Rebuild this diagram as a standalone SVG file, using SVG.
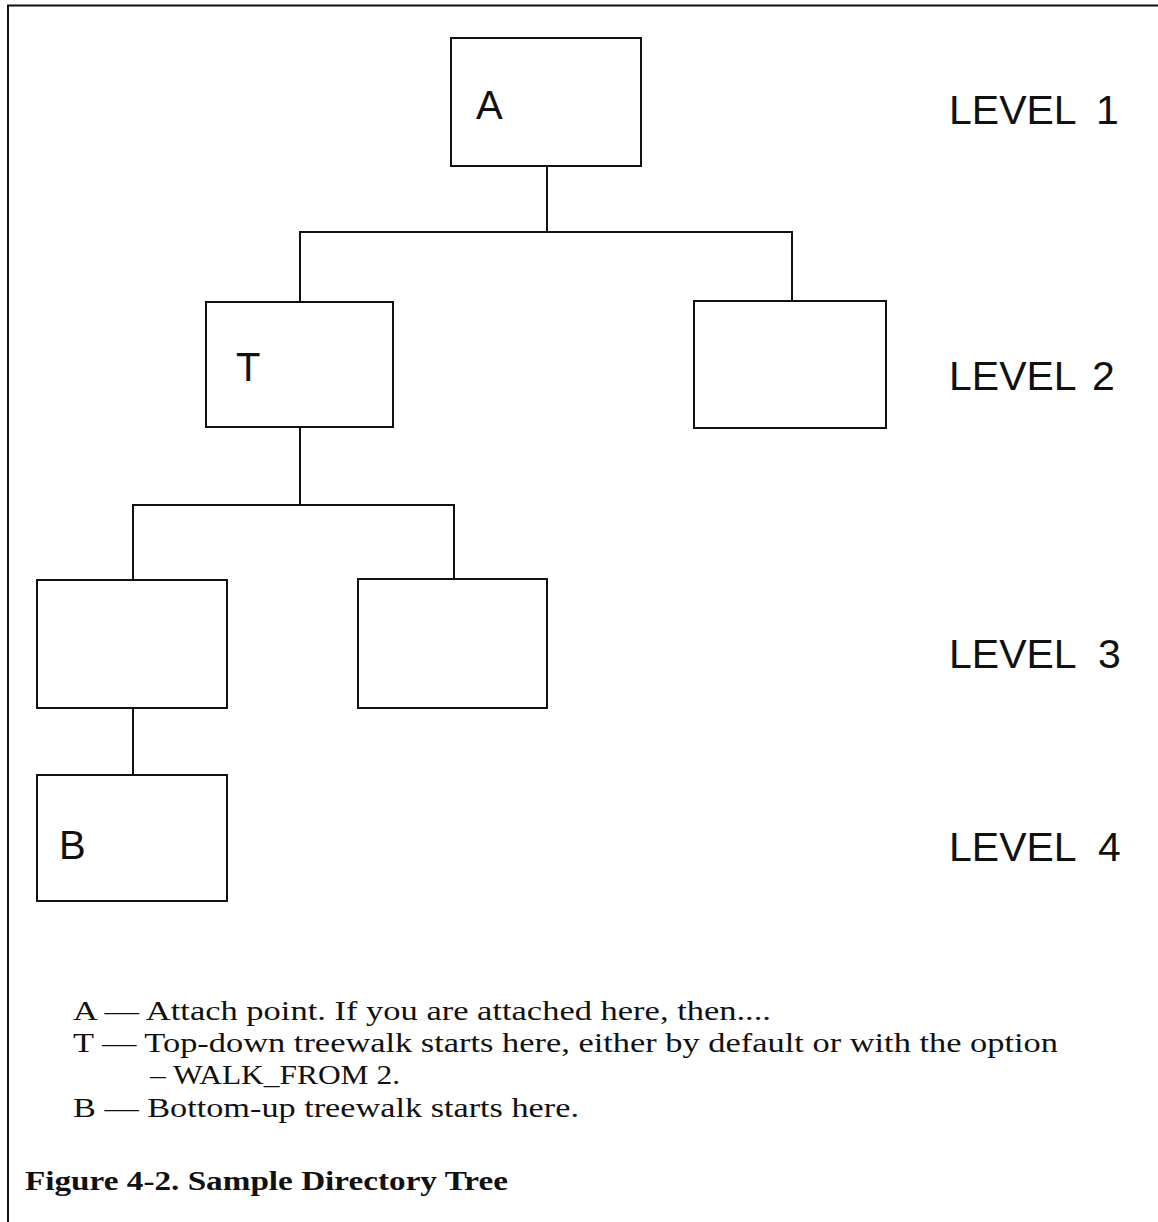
<svg xmlns="http://www.w3.org/2000/svg" width="1158" height="1222" viewBox="0 0 1158 1222">
<style>
.box{fill:none;stroke:#111;stroke-width:2}
.ln{fill:none;stroke:#111;stroke-width:2}
.lbl{font-family:"Liberation Sans",Arial,sans-serif;font-size:40px;fill:#111}
.lvl{font-family:"Liberation Sans",Arial,sans-serif;font-size:41px;fill:#111}
.leg{font-family:"Liberation Serif","Times New Roman",serif;font-size:27px;fill:#111}
.cap{font-family:"Liberation Serif","Times New Roman",serif;font-size:27px;font-weight:bold;fill:#111}
</style>
<rect width="1158" height="1222" fill="#fff"/>
<g id="frame">
<path class="ln" d="M8,1222 V5.5 H1158"/>
</g>
<g id="connectors">
<path class="ln" d="M547,166 V232 M300,302 V232 H792 V301"/>
<path class="ln" d="M300,427 V505 M133,580 V505 H454 V579"/>
<path class="ln" d="M133,708 V775"/>
</g>
<g id="node-A">
<rect class="box" x="451" y="38" width="190" height="128"/>
<text class="lbl" x="476" y="119">A</text>
</g>
<g id="node-T">
<rect class="box" x="206" y="302" width="187" height="125"/>
<text class="lbl" x="236" y="381">T</text>
</g>
<g id="node-L2-right">
<rect class="box" x="694" y="301" width="192" height="127"/>
</g>
<g id="node-L3-left">
<rect class="box" x="37" y="580" width="190" height="128"/>
</g>
<g id="node-L3-right">
<rect class="box" x="358" y="579" width="189" height="129"/>
</g>
<g id="node-B">
<rect class="box" x="37" y="775" width="190" height="126"/>
<text class="lbl" x="59" y="859">B</text>
</g>
<g id="levels">
<text class="lvl" x="949" y="124">LEVEL<tspan x="1096">1</tspan></text>
<text class="lvl" x="949" y="390">LEVEL<tspan x="1092">2</tspan></text>
<text class="lvl" x="949" y="668">LEVEL<tspan x="1098">3</tspan></text>
<text class="lvl" x="949" y="861">LEVEL<tspan x="1098">4</tspan></text>
</g>
<g id="legend">
<text class="leg" x="73" y="1020" textLength="698" lengthAdjust="spacingAndGlyphs">A — Attach point. If you are attached here, then....</text>
<text class="leg" x="73" y="1052" textLength="985" lengthAdjust="spacingAndGlyphs">T — Top-down treewalk starts here, either by default or with the option</text>
<text class="leg" x="150" y="1084" textLength="250" lengthAdjust="spacingAndGlyphs">– WALK_FROM 2.</text>
<text class="leg" x="73" y="1117" textLength="506" lengthAdjust="spacingAndGlyphs">B — Bottom-up treewalk starts here.</text>
<text class="cap" x="25" y="1190" textLength="483" lengthAdjust="spacingAndGlyphs">Figure 4-2. Sample Directory Tree</text>
</g>
</svg>
